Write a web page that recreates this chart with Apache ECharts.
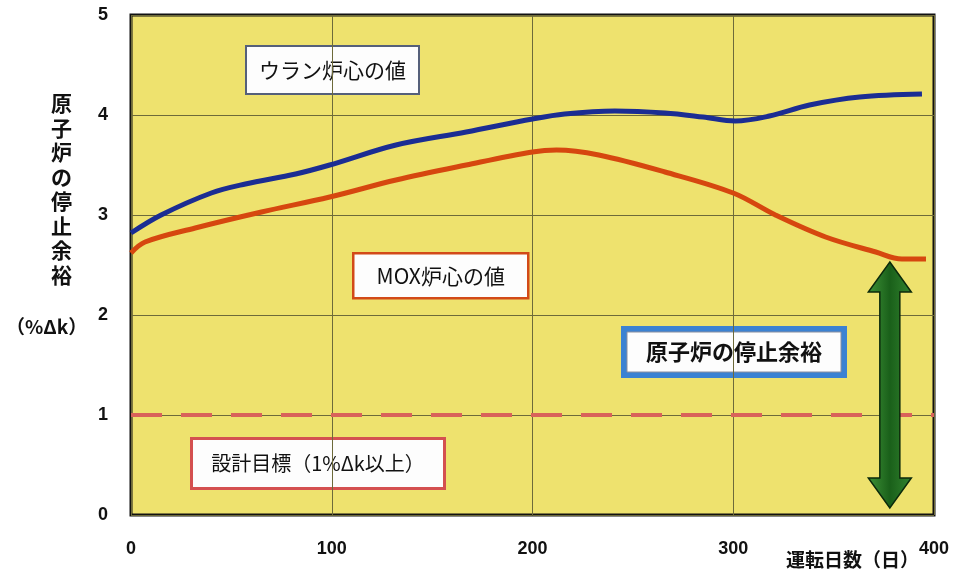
<!DOCTYPE html>
<html><head><meta charset="utf-8">
<script src="https://cdn.jsdelivr.net/npm/echarts@6/dist/echarts.min.js"></script>
<style>html,body{margin:0;padding:0;background:#fff;}#c{width:953px;height:576px;}</style>
</head><body><div id="c"></div>
<script>
const uDays = [0, 15, 40, 57, 82, 99, 132, 167, 200, 216, 241, 266, 285, 301, 318, 338, 363, 394];
const uranium = [2.82, 3.00, 3.22, 3.31, 3.41, 3.50, 3.70, 3.83, 3.96, 4.01, 4.04, 4.02, 3.98, 3.94, 3.99, 4.10, 4.18, 4.21];
const mDays = [0, 7, 32, 65, 99, 132, 167, 200, 212, 233, 266, 300, 321, 346, 371, 384, 396];
const mox = [2.62, 2.73, 2.87, 3.03, 3.18, 3.35, 3.50, 3.63, 3.65, 3.60, 3.43, 3.22, 3.00, 2.78, 2.63, 2.56, 2.56];
const targetDays = [0, 400];
const targetValue = [1, 1];
const marginArrow = [[378, 0.07, 2.53]];
const xTicks = [0, 100, 200, 300, 400];
const yTicks = [0, 1, 2, 3, 4, 5];

const labelFont = '"Liberation Sans", Arial, sans-serif';
const jpFont = '"Noto Sans CJK JP", sans-serif';

const chart = echarts.init(document.getElementById('c'));

function box(x, y, w, h, text, border, bw, fontSize, bold) {
  return {
    type: 'group', left: x, top: y, children: [
      { type: 'rect', shape: { x: 0, y: 0, width: w, height: h },
        style: { fill: '#fdfdfd', stroke: border, lineWidth: bw } },
      { type: 'text', x: w / 2, y: h / 2,
        style: { text: text, fill: '#111', font: (bold ? 'bold ' : '') + fontSize + 'px ' + jpFont,
                 textAlign: 'center', textVerticalAlign: 'middle' } }
    ]
  };
}

const option = {
  backgroundColor: '#ffffff',
  animation: false,
  grid: { left: 131, top: 15, right: 19, bottom: 61, show: true,
          backgroundColor: '#EEE26E', borderColor: '#111', borderWidth: 3 },
  xAxis: {
    type: 'value', min: 0, max: 400, interval: 100,
    axisLine: { show: false }, axisTick: { show: false },
    axisLabel: { margin: 25, color: '#111', fontSize: 18, fontWeight: 'bold', fontFamily: labelFont },
    splitLine: { show: true, lineStyle: { color: '#6d6a3a', width: 1 } }
  },
  yAxis: {
    type: 'value', min: 0, max: 5, interval: 1,
    axisLine: { show: false }, axisTick: { show: false },
    axisLabel: { margin: 23, color: '#111', fontSize: 18, fontWeight: 'bold', fontFamily: labelFont },
    splitLine: { show: true, lineStyle: { color: '#6d6a3a', width: 1 } }
  },
  series: [
    { type: 'line', name: 'target', data: targetDays.map((d, i) => [d, targetValue[i]]),
      showSymbol: false, lineStyle: { color: '#D9625A', width: 4, type: [31, 19] }, z: 3 },
    { type: 'line', name: 'uranium', data: uDays.map((d, i) => [d, uranium[i]]),
      smooth: 0.35, showSymbol: false, lineStyle: { color: '#1B2D93', width: 5 }, z: 4 },
    { type: 'line', name: 'mox', data: mDays.map((d, i) => [d, mox[i]]),
      smooth: 0.35, showSymbol: false, lineStyle: { color: '#D6470F', width: 5 }, z: 4 },
    { type: 'custom', name: 'arrow', data: marginArrow, z: 6,
      renderItem: function (params, api) {
        const top = api.coord([api.value(0), api.value(2)]);
        const bot = api.coord([api.value(0), api.value(1)]);
        const cx = top[0], hw = 21.5, sw = 10, hh = 30;
        const pts = [
          [cx, top[1]], [cx + hw, top[1] + hh], [cx + sw, top[1] + hh],
          [cx + sw, bot[1] - hh], [cx + hw, bot[1] - hh], [cx, bot[1]],
          [cx - hw, bot[1] - hh], [cx - sw, bot[1] - hh], [cx - sw, top[1] + hh],
          [cx - hw, top[1] + hh]
        ];
        return { type: 'polygon', shape: { points: pts },
          style: { fill: new echarts.graphic.LinearGradient(0, 0, 1, 0, [
              { offset: 0, color: '#3f9438' }, { offset: 0.5, color: '#1a601a' }, { offset: 1, color: '#338530' }]),
            stroke: '#0b2a0b', lineWidth: 1.5 } };
      }
    }
  ],
  graphic: [
    box(245, 45, 173, 48, 'ウラン炉心の値', '#55607a', 2, 21, false),
    box(352, 252, 175, 45, 'MOX炉心の値', '#D24A18', 2.5, 21, false),
    box(190, 437, 253, 50, '設計目標（1%Δk以上）', '#D45050', 3, 20, false),
    { type: 'group', left: 621, top: 326, children: [
      { type: 'rect', shape: { x: 0, y: 0, width: 226, height: 52 }, style: { fill: '#3B82D2' } },
      { type: 'rect', shape: { x: 6, y: 6, width: 214, height: 40 }, style: { fill: '#fdfdfd', stroke: '#8a8fa0', lineWidth: 1 } },
      { type: 'text', x: 113, y: 26, style: { text: '原子炉の停止余裕', fill: '#111', font: 'bold 22px ' + jpFont,
          textAlign: 'center', textVerticalAlign: 'middle' } }
    ] },
    { type: 'text', left: 51, top: 91, style: { text: '原\n子\n炉\nの\n停\n止\n余\n裕', fill: '#111',
        font: 'bold 21px ' + jpFont, lineHeight: 24.5, textAlign: 'center' } },
    { type: 'text', left: 6, top: 317, style: { text: '（%Δk）', fill: '#111', font: 'bold 19px ' + jpFont } },
    { type: 'text', left: 786, top: 550, style: { text: '運転日数（日）', fill: '#111', font: 'bold 19px ' + jpFont } }
  ]
};
chart.setOption(option);
</script></body></html>
